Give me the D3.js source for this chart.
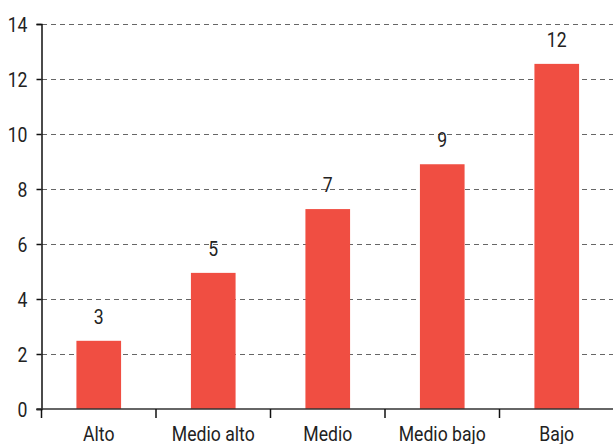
<!DOCTYPE html>
<meta charset="utf-8">
<style>
    body { margin: 0; background: #fff; }
    text { font-family: "Roboto", sans-serif; fill: #222; font-size: 20.5px; }
    .grid line { stroke: #666; stroke-dasharray: 5,4; shape-rendering: crispEdges; }
</style>
<body>
<script src="https://cdnjs.cloudflare.com/ajax/libs/d3/7.8.5/d3.min.js"></script>
<script>
    var categories = ["Alto", "Medio alto", "Medio", "Medio bajo", "Bajo"];
    var values = [2.48, 4.95, 7.27, 8.9, 12.55];
    var labels = ["3", "5", "7", "9", "12"];
    var yTicks = [0, 2, 4, 6, 8, 10, 12, 14];

    var width = 613, height = 444;
    var margin = {top: 24, right: -1, bottom: 35, left: 41.5};
    var squeeze = 0.86; // narrow the font like the condensed face in the original

    var svg = d3.select("body").append("svg")
        .attr("width", width)
        .attr("height", height);

    var x = d3.scaleBand()
        .domain(categories)
        .range([margin.left, width - margin.right])
        .paddingInner(0.61)
        .paddingOuter(0.305);

    var y = d3.scaleLinear()
        .domain([0, 14])
        .range([height - margin.bottom, margin.top]);

    // dashed gridlines
    svg.append("g")
        .attr("class", "grid")
        .selectAll("line")
        .data(yTicks.filter(function(d) { return d > 0; }))
        .enter().append("line")
        .attr("x1", margin.left)
        .attr("x2", width)
        .attr("y1", function(d) { return Math.round(y(d)) + 0.5; })
        .attr("y2", function(d) { return Math.round(y(d)) + 0.5; });

    // bars
    svg.append("g")
        .selectAll("rect")
        .data(values)
        .enter().append("rect")
        .attr("x", function(d, i) { return x(categories[i]); })
        .attr("y", function(d) { return y(d); })
        .attr("width", x.bandwidth())
        .attr("height", function(d) { return y(0) - y(d); })
        .style("fill", "#f04e42");

    // value labels
    svg.append("g")
        .selectAll("text")
        .data(values)
        .enter().append("text")
        .attr("transform", function(d, i) {
            return "translate(" + (x(categories[i]) + x.bandwidth() / 2) + "," + (y(d) - 17) + ") scale(" + squeeze + ",1)";
        })
        .attr("text-anchor", "middle")
        .text(function(d, i) { return labels[i]; });

    // y axis
    var yAxis = svg.append("g")
        .attr("transform", "translate(" + margin.left + ",0)")
        .call(d3.axisLeft(y).tickValues(yTicks).tickSize(5));
    yAxis.select(".domain").attr("stroke", "#111").attr("stroke-width", 1.5);
    yAxis.selectAll(".tick line").attr("stroke", "#111").attr("stroke-width", 1.5);
    yAxis.selectAll(".tick text")
        .attr("x", null).attr("dy", null)
        .attr("fill", "#222")
        .style("font-size", null)
        .style("font-family", null)
        .attr("font-size", null).attr("font-family", null)
        .attr("transform", "translate(-14,7.5) scale(" + squeeze + ",1)");

    // x axis
    var xAxis = svg.append("g")
        .attr("transform", "translate(0," + y(0) + ")")
        .call(d3.axisBottom(x).tickSize(0));
    xAxis.select(".domain").remove();
    xAxis.attr("font-size", null).attr("font-family", null);
    yAxis.attr("font-size", null).attr("font-family", null);
    xAxis.append("line")
        .attr("x1", margin.left - 5)
        .attr("x2", width)
        .attr("stroke", "#333")
        .attr("stroke-width", 1.5);
    xAxis.selectAll(".tick text")
        .attr("y", null).attr("dy", null)
        .attr("fill", "#222")
        .attr("transform", "translate(0,32) scale(" + squeeze + ",1)");

    // boundary ticks between categories
    var step = x.step();
    var bounds = d3.range(categories.length + 1).map(function(i) { return margin.left + i * step; });
    xAxis.selectAll(".bound")
        .data(bounds)
        .enter().append("line")
        .attr("class", "bound")
        .attr("x1", function(d) { return d; })
        .attr("x2", function(d) { return d; })
        .attr("y1", 0)
        .attr("y2", 9)
        .attr("stroke", "#111")
        .attr("stroke-width", 1.5);
</script>
</body>
</html>
